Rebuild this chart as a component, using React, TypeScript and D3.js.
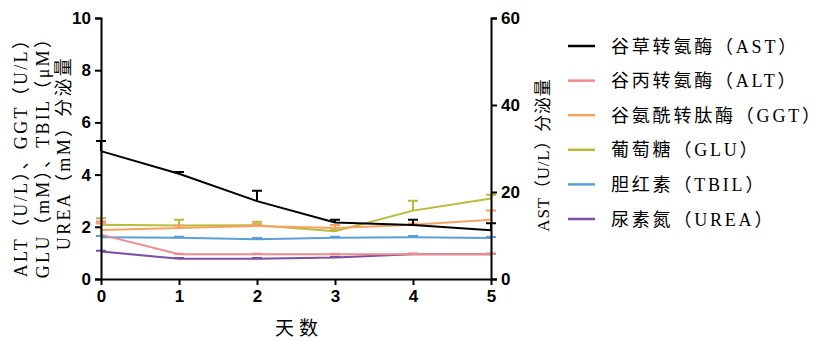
import { select, scaleLinear, axisLeft, axisRight, axisBottom, line, format } from "d3";
import { useEffect, useRef } from "react";

// days on x axis
const days = [0, 1, 2, 3, 4, 5];

// AST is read on the right axis, the rest on the left
const astMean = [29.4, 24.2, 17.9, 13.0, 12.4, 11.2];
const astErr = [2.3, 0.4, 2.4, 0.6, 1.2, 1.6];
const altMean = [1.7, 0.95, 0.95, 0.95, 0.95, 0.95];
const altErr = [0.5, 0.02, 0.02, 0.02, 0.02, 0.02];
const ggtMean = [1.88, 1.95, 2.03, 1.95, 2.08, 2.27];
const ggtErr = [0.25, 0.1, 0.08, 0.12, 0.05, 0.35];
const gluMean = [2.08, 2.05, 2.06, 1.83, 2.62, 3.08];
const gluErr = [0.25, 0.22, 0.13, 0.05, 0.38, 0.15];
const tbilMean = [1.6, 1.58, 1.52, 1.58, 1.6, 1.57];
const tbilErr = [0.05, 0.04, 0.05, 0.04, 0.05, 0.04];
const ureaMean = [1.05, 0.78, 0.78, 0.82, 0.95, 0.95];
const ureaErr = [0.03, 0.02, 0.02, 0.03, 0.02, 0.02];

const leftTicks = [0, 2, 4, 6, 8, 10];
const rightTicks = [0, 20, 40, 60];

const series = [
  { name: "谷草转氨酶（AST）", mean: astMean, err: astErr, color: "#000000", right: true },
  { name: "谷丙转氨酶（ALT）", mean: altMean, err: altErr, color: "#f08a8e", right: false },
  { name: "谷氨酰转肽酶（GGT）", mean: ggtMean, err: ggtErr, color: "#f8a25e", right: false },
  { name: "葡萄糖（GLU）", mean: gluMean, err: gluErr, color: "#b6bd3a", right: false },
  { name: "胆红素（TBIL）", mean: tbilMean, err: tbilErr, color: "#5b9fd9", right: false },
  { name: "尿素氮（UREA）", mean: ureaMean, err: ureaErr, color: "#7d4ea2", right: false },
];

const serif = "'Liberation Serif', 'Noto Sans CJK SC', serif";
const sans = "'Liberation Sans', Arial, sans-serif";

const App = () => {
  const svgRef = useRef(null);

  useEffect(() => {
    const svg = select(svgRef.current);
    svg.selectAll("*").remove();

    const x = scaleLinear().domain([0, 5]).range([101, 491]);
    const yL = scaleLinear().domain([0, 10]).range([279, 18]);
    const yR = scaleLinear().domain([0, 60]).range([279, 18]);

    // series lines + upper error bars
    const plot = svg.append("g");
    [...series].reverse().forEach(s => {
      const y = s.right ? yR : yL;
      const pts = days.map((d, i) => [d, s.mean[i], s.err[i]]);
      const g = plot.append("g");
      g.selectAll(".eb")
        .data(pts)
        .join("path")
        .attr("d", p => {
          const cx = x(p[0]);
          const y0 = y(p[1]);
          const y1 = y(p[1] + p[2]);
          return `M${cx},${y0}V${y1}M${cx - 5},${y1}H${cx + 5}`;
        })
        .attr("stroke", s.color)
        .attr("stroke-width", 2)
        .attr("fill", "none");
      g.append("path")
        .datum(pts)
        .attr("d", line().x(p => x(p[0])).y(p => y(p[1])))
        .attr("stroke", s.color)
        .attr("stroke-width", 2)
        .attr("fill", "none");
    });

    // axes
    const styleAxis = g => {
      g.select(".domain").attr("stroke-width", 2);
      g.selectAll(".tick line").attr("stroke-width", 2);
      g.selectAll(".tick text")
        .attr("font-family", sans)
        .attr("font-weight", "bold")
        .attr("font-size", 17)
        .attr("fill", "#000");
    };

    svg.append("g")
      .attr("transform", "translate(101,0)")
      .call(axisLeft(yL).tickValues(leftTicks).tickSize(6).tickSizeOuter(6).tickPadding(4))
      .call(styleAxis);

    svg.append("g")
      .attr("transform", "translate(491,0)")
      .call(axisRight(yR).tickValues(rightTicks).tickSize(6).tickSizeOuter(6).tickPadding(4))
      .call(styleAxis);

    svg.append("g")
      .attr("transform", "translate(0,279)")
      .call(axisBottom(x).tickValues(days).tickFormat(format("d")).tickSize(6).tickSizeOuter(0).tickPadding(5))
      .call(styleAxis);

    // axis titles
    const leftTitle = ["ALT（U/L）、GGT（U/L）", "GLU（mM）、TBIL（μM）", "UREA（mM）分泌量"];
    leftTitle.forEach((t, i) => {
      svg.append("text")
        .attr("transform", `translate(${27 + i * 21.5},153) rotate(-90)`)
        .attr("text-anchor", "middle")
        .attr("font-family", serif)
        .attr("font-size", 18)
        .attr("letter-spacing", 2.3)
        .text(t);
    });

    svg.append("text")
      .attr("transform", "translate(549,155) rotate(-90)")
      .attr("text-anchor", "middle")
      .attr("font-family", serif)
      .attr("font-size", 17)
      .attr("letter-spacing", 0.8)
      .text("AST（U/L）分泌量");

    svg.append("text")
      .attr("x", 299)
      .attr("y", 335)
      .attr("text-anchor", "middle")
      .attr("font-family", serif)
      .attr("font-size", 19)
      .attr("letter-spacing", 5)
      .text("天数");

    // legend
    const legend = svg.append("g");
    series.forEach((s, i) => {
      const ly = 46 + i * 34.6;
      legend.append("line")
        .attr("x1", 568).attr("x2", 595)
        .attr("y1", ly).attr("y2", ly)
        .attr("stroke", s.color)
        .attr("stroke-width", 2.5);
      legend.append("text")
        .attr("x", 611)
        .attr("y", ly + 6.5)
        .attr("font-family", serif)
        .attr("font-size", 18)
        .attr("letter-spacing", 2.8)
        .text(s.name);
    });
  }, []);

  return (
    <div style={{ position: "absolute", left: 0, top: 0 }}>
      <svg ref={svgRef} width={822} height={341} style={{ display: "block", background: "#fff" }}></svg>
    </div>
  );
};

export default App;
